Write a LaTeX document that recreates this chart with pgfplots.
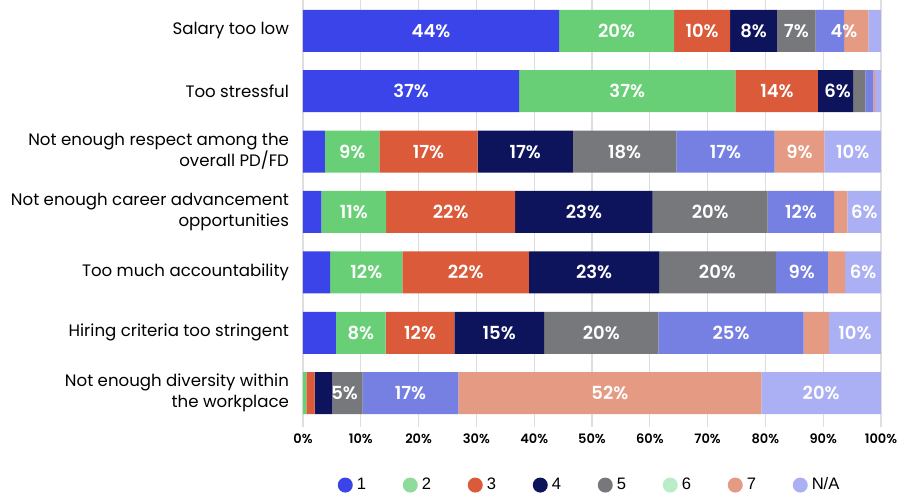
\documentclass[border=0pt]{standalone}
\usepackage{fontspec}
\setmainfont{Poppins}
\newfontfamily\semib{Poppins SemiBold}
\newfontfamily\legfont{Liberation Sans}
\usepackage{pgfplots}
\pgfplotsset{compat=1.18}
\definecolor{c1}{HTML}{3A44E8}
\definecolor{c2}{HTML}{69CF77}
\definecolor{c2leg}{HTML}{8EDC9A}
\definecolor{c3}{HTML}{DA5A3A}
\definecolor{c4}{HTML}{0E145C}
\definecolor{c5}{HTML}{77787C}
\definecolor{c6}{HTML}{7680E2}
\definecolor{c6leg}{HTML}{B8EDC8}
\definecolor{c7}{HTML}{E59A84}
\definecolor{c8}{HTML}{ABB0F4}
\pgfplotsset{base/.style={width=289pt, height=213.5pt, scale only axis,
  xmin=0, xmax=100, ymin=-0.51, ymax=6.56, y dir=reverse}}
\begin{document}
\begin{tikzpicture}
\begin{axis}[base, xbar stacked, bar width=21pt,
  axis line style={draw=none}, tick style={draw=none},
  xtick={0,10,...,100}, xticklabel={\pgfmathprintnumber{\tick}\%},
  /pgf/number format/assume math mode=true,
  xticklabel style={font=\semib\fontsize{6.5}{8}\selectfont},
  xmajorgrids, grid style={draw=black!13, line width=0.6pt},
  ytick={0,...,6},
  yticklabels={Salary too low, Too stressful, {Not enough respect among the\\overall PD/FD}, {Not enough career advancement\\opportunities}, Too much accountability, Hiring criteria too stringent, {Not enough diversity within\\the workplace}},
  yticklabel style={align=right, xshift=-3.5pt, font=\fontsize{8.3}{10.5}\selectfont},
  legend columns=8,
  legend style={draw=none, at={(0.51,-0.136)}, anchor=center, font=\legfont\fontsize{8.3}{9}\selectfont,
    /tikz/every even column/.append style={column sep=0pt}},
  legend image code/.code={\fill[#1] (0pt,0pt) circle (3.75pt);},
]
\addplot[fill=c1, draw=none] coordinates {(44.3,0) (37.4,1) (3.8,2) (3.2,3) (4.7,4) (5.7,5) (0,6)};
\addplot[fill=c2, draw=none, legend image code/.code={\fill[c2leg] (0pt,0pt) circle (3.75pt);}] coordinates {(19.9,0) (37.4,1) (9.4,2) (11.2,3) (12.5,4) (8.6,5) (0.6,6)};
\addplot[fill=c3, draw=none] coordinates {(9.7,0) (14.3,1) (17.0,2) (22.3,3) (21.9,4) (11.9,5) (1.4,6)};
\addplot[fill=c4, draw=none] coordinates {(8.1,0) (6.1,1) (16.5,2) (23.8,3) (22.5,4) (15.5,5) (3.1,6)};
\addplot[fill=c5, draw=none] coordinates {(6.7,0) (2.1,1) (17.9,2) (19.9,3) (20.2,4) (19.8,5) (5.2,6)};
\addplot[fill=c6, draw=none, legend image code/.code={\fill[c6leg] (0pt,0pt) circle (3.75pt);}] coordinates {(4.9,0) (1.4,1) (17.0,2) (11.5,3) (9.0,4) (25.1,5) (16.6,6)};
\addplot[fill=c7, draw=none] coordinates {(4.2,0) (0.3,1) (8.6,2) (2.3,3) (3.0,4) (4.4,5) (52.4,6)};
\addplot[fill=c8, draw=none] coordinates {(2.2,0) (1.0,1) (9.8,2) (5.8,3) (6.2,4) (9.0,5) (20.7,6)};
\legend{\makebox[21pt][l]{1},\makebox[21pt][l]{2},\makebox[21pt][l]{3},\makebox[21pt][l]{4},\makebox[21pt][l]{5},\makebox[21pt][l]{6},\makebox[21pt][l]{7},\makebox[21pt][l]{N/A}}
\end{axis}
\begin{axis}[base, hide axis, point meta=explicit symbolic,
  nodes near coords,
  every node near coord/.append style={anchor=center, text=white, font=\semib\fontsize{9}{10}\selectfont}]
\addplot[only marks, mark=none] coordinates {
 (22.15,0) [44\%] (54.25,0) [20\%] (69.05,0) [10\%] (77.95,0) [8\%] (85.35,0) [7\%] (93.6,0) [4\%]
 (18.7,1) [37\%] (56.1,1) [37\%] (82,1) [14\%] (92.5,1) [6\%]
 (8.5,2) [9\%] (21.7,2) [17\%] (38.45,2) [17\%] (55.65,2) [18\%] (73.1,2) [17\%] (85.9,2) [9\%] (95.1,2) [10\%]
 (8.8,3) [11\%] (25.55,3) [22\%] (48.6,3) [23\%] (70.45,3) [20\%] (86.15,3) [12\%] (97.1,3) [6\%]
 (10.95,4) [12\%] (28.15,4) [22\%] (50.35,4) [23\%] (71.7,4) [20\%] (86.3,4) [9\%] (96.9,4) [6\%]
 (10,5) [8\%] (20.25,5) [12\%] (33.95,5) [15\%] (51.6,5) [20\%] (74.05,5) [25\%] (95.5,5) [10\%]
 (7.2,6) [5\%] (18.6,6) [17\%] (53.1,6) [52\%] (89.65,6) [20\%]
};
\end{axis}
\pgfresetboundingbox
\path (-151.5pt,-34.5pt) rectangle (299.5pt,213.5pt);
\end{tikzpicture}
\end{document}
